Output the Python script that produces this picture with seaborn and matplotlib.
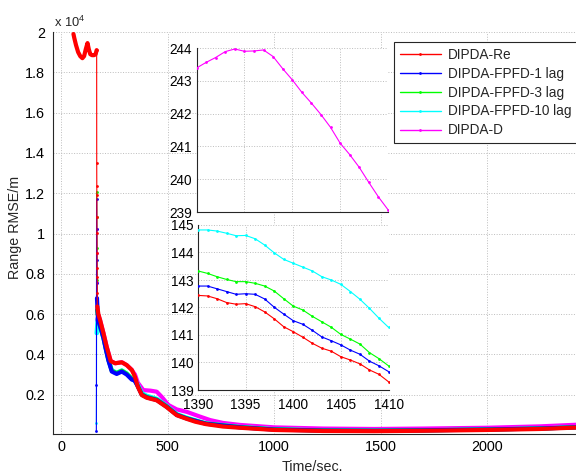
import matplotlib
matplotlib.use("Agg")
import matplotlib.pyplot as plt
from matplotlib.lines import Line2D
import seaborn as sns

sns.set_style("white")
plt.rcParams["font.family"] = ["Liberation Sans", "DejaVu Sans"]
plt.rcParams["mathtext.fontset"] = "custom"
plt.rcParams["mathtext.rm"] = "Liberation Sans"

# ---------------- data ----------------
names = ["DIPDA-Re", "DIPDA-FPFD-1 lag", "DIPDA-FPFD-3 lag", "DIPDA-FPFD-10 lag", "DIPDA-D"]
colors = ["#ff0000", "#0000ff", "#00ff00", "#00ffff", "#ff00ff"]

# main plot: DIPDA-Re (red)
re_head_t = [58, 62, 70, 80, 90, 100, 108, 116, 124, 130, 137, 145, 155, 162, 167]
re_head_v = [19900, 19700, 19350, 19000, 18800, 18700, 18800, 19150, 19450, 19150, 18900, 18850, 18850, 18900, 19100]
re_spike_t = [167, 167.3, 167.6, 167.9, 168.2, 168.5, 168.8, 169.1, 169.4, 169.7, 170]
re_spike_v = [19100, 13510, 12350, 11910, 10830, 10010, 9020, 8270, 7860, 7040, 6380]
re_tail_t = [170, 175, 183, 199, 214, 233, 254, 285, 308, 332, 340, 347, 360, 379, 402, 449, 496, 543, 590, 630, 680, 760, 840, 1000, 1230, 1470, 1700, 2000, 2250, 2420]
re_tail_v = [6380, 6000, 5710, 5050, 4380, 3670, 3560, 3610, 3470, 3230, 3050, 2880, 2400, 1980, 1850, 1720, 1380, 980, 800, 660, 540, 420, 360, 250, 200, 190, 210, 250, 300, 370]

# DIPDA-FPFD-1 lag (blue)
b_spike_t = [165.5, 166, 166.5, 167, 167.5, 168, 168.5]
b_spike_v = [180, 2460, 11710, 10200, 8690, 7530, 6790]
b_tail_t = [168.5, 172, 178, 190, 199, 210, 222, 238, 261, 285, 308, 332, 345, 360, 379, 402, 449, 496, 543, 590, 680, 840, 1000, 1230, 1470, 1700, 2000, 2250, 2420]
b_tail_v = [6790, 6000, 5560, 5150, 4800, 4250, 3700, 3150, 3030, 3150, 3000, 2750, 2700, 2420, 2000, 1870, 1740, 1400, 1000, 820, 560, 380, 270, 220, 210, 230, 270, 320, 380]

# DIPDA-FPFD-3 lag (green)
g_spike_t = [166.5, 167, 167.5, 168, 168.5, 169]
g_spike_v = [12070, 10800, 9300, 7700, 6700, 6200]
g_tail_t = [169, 173, 180, 190, 199, 210, 222, 238, 261, 285, 308, 332, 345, 360, 379, 402, 449, 496, 543, 590, 680, 840, 1000, 1230, 1470, 1700, 2000, 2250, 2420]
g_tail_v = [6200, 5900, 5500, 5150, 4830, 4290, 3740, 3190, 3070, 3190, 3040, 2790, 2730, 2440, 2020, 1890, 1760, 1420, 1010, 830, 570, 390, 280, 225, 215, 235, 275, 325, 385]

# DIPDA-FPFD-10 lag (cyan)
c_spike_t = [166, 166.5]
c_spike_v = [600, 5050]
c_tail_t = [166.5, 172, 178, 185, 192, 199, 210, 222, 238, 261, 285, 308, 332, 345, 360, 379, 402, 449, 496, 543, 590, 680, 840, 1000, 1230, 1470, 1700, 2000, 2250, 2420]
c_tail_v = [5050, 5800, 5650, 5350, 5050, 4800, 4300, 3750, 3220, 3090, 3210, 3060, 2800, 2760, 2500, 2090, 1950, 1800, 1450, 1040, 860, 580, 400, 290, 230, 215, 235, 275, 325, 390]

# DIPDA-D (magenta)
m_spike_t = [166.5, 167, 167.5, 168, 168.5]
m_spike_v = [10200, 9020, 7600, 6210, 5700]
m_tail_t = [168.5, 175, 183, 199, 214, 233, 254, 285, 308, 332, 340, 347, 360, 386, 420, 449, 472, 504, 543, 590, 653, 700, 760, 840, 1000, 1230, 1470, 1700, 2000, 2250, 2420]
m_tail_v = [5700, 5950, 5700, 5050, 4380, 3670, 3560, 3610, 3470, 3230, 3100, 3000, 2600, 2230, 2200, 2150, 1900, 1490, 1270, 1150, 910, 740, 600, 500, 380, 320, 300, 320, 360, 430, 510]

# zoom insets (time 1390..1410)
zoom_t = [1390, 1391, 1392, 1393, 1394, 1395, 1396, 1397, 1398, 1399, 1400,
          1401, 1402, 1403, 1404, 1405, 1406, 1407, 1408, 1409, 1410]
zoom_d = [243.39, 243.56, 243.71, 243.89, 243.97, 243.90, 243.91, 243.94, 243.74, 243.37, 243.03,
          242.65, 242.32, 241.97, 241.58, 241.10, 240.75, 240.36, 239.90, 239.46, 239.07]
zoom_c = [144.82, 144.82, 144.78, 144.70, 144.61, 144.62, 144.50, 144.27, 143.99, 143.75, 143.61,
          143.47, 143.33, 143.12, 143.00, 142.84, 142.58, 142.30, 141.97, 141.61, 141.28]
zoom_g = [143.33, 143.24, 143.12, 143.02, 142.94, 142.94, 142.88, 142.78, 142.60, 142.32, 142.05,
          141.91, 141.68, 141.48, 141.28, 141.02, 140.85, 140.67, 140.36, 140.14, 139.88]
zoom_b = [142.78, 142.78, 142.68, 142.58, 142.48, 142.50, 142.48, 142.31, 142.01, 141.76, 141.52,
          141.39, 141.17, 140.93, 140.79, 140.64, 140.45, 140.30, 140.05, 139.88, 139.67]
zoom_r = [142.44, 142.42, 142.32, 142.18, 142.12, 142.14, 142.03, 141.84, 141.59, 141.30, 141.12,
          140.92, 140.70, 140.52, 140.41, 140.21, 140.09, 139.95, 139.73, 139.57, 139.30]

main_xticks = [0, 500, 1000, 1500, 2000]
main_yticks = [2000, 4000, 6000, 8000, 10000, 12000, 14000, 16000, 18000, 20000]
zoom1_yticks = [239, 240, 241, 242, 243, 244]
zoom2_yticks = [139, 140, 141, 142, 143, 144, 145]
zoom_xticks = [1390, 1395, 1400, 1405, 1410]

# ---------------- figure ----------------
W, H = 576, 475
fig = plt.figure(figsize=(W / 100, H / 100), dpi=100)
fig.patch.set_facecolor("white")

SPINE = "#262626"
GRID = dict(ls=":", color="#bdbdbd", lw=0.7)
THICK = 3.0
THIN = 0.8
MS = 4


def style_axes(a, fs, padx, pady):
    for s in ["top", "right"]:
        a.spines[s].set_visible(False)
    for s in ["left", "bottom"]:
        a.spines[s].set_color(SPINE)
        a.spines[s].set_linewidth(0.8)
    a.tick_params(direction="in", length=3.5, width=0.6, colors=SPINE,
                  labelcolor="black", labelsize=fs)
    a.tick_params(axis="x", pad=padx)
    a.tick_params(axis="y", pad=pady)
    a.set_axisbelow(True)
    a.grid(True, **GRID)


def line(a, t, v, col, lw, z, marker=None):
    kw = dict(marker=marker, markersize=MS, markeredgewidth=0) if marker else {}
    sns.lineplot(x=t, y=v, ax=a, color=col, linewidth=lw, sort=False,
                 estimator=None, legend=False, zorder=z, **kw)


# main axes (extends a bit past the right edge of the figure)
x0_px, x1_px = 53, 593.6
ax = fig.add_axes([x0_px / W, (H - 434) / H, (x1_px - x0_px) / W, 402 / H])
style_axes(ax, 10.4, 4.5, 5.5)

# draw order: D, 10 lag, 3 lag, 1 lag, Re
line(ax, m_tail_t, m_tail_v, colors[4], THICK, 2)
line(ax, m_spike_t, m_spike_v, colors[4], THIN, 2, ".")
line(ax, c_tail_t, c_tail_v, colors[3], THICK, 3)
line(ax, c_spike_t, c_spike_v, colors[3], THIN, 3, ".")
line(ax, g_tail_t, g_tail_v, colors[2], THICK, 4)
line(ax, g_spike_t, g_spike_v, colors[2], THIN, 4, ".")
line(ax, b_tail_t, b_tail_v, colors[1], THICK, 5)
line(ax, b_spike_t, b_spike_v, colors[1], THIN, 5, ".")
line(ax, re_tail_t, re_tail_v, colors[0], THICK, 6)
line(ax, re_head_t, re_head_v, colors[0], THICK, 6)
line(ax, re_spike_t, re_spike_v, colors[0], THIN, 6, ".")

ax.set_xlim(-38, 2500)
ax.set_ylim(50, 20000)
ax.set_xticks(main_xticks)
ax.set_xticklabels([str(v) for v in main_xticks])
ax.set_yticks(main_yticks)
ax.set_yticklabels(["%g" % (v / 1e4) for v in main_yticks])
ax.set_xlabel("Time/sec.", fontsize=10.3)
ax.set_ylabel("Range RMSE/m", fontsize=10.3)
ax.xaxis.set_label_coords((312 - x0_px) / (x1_px - x0_px), -0.065)
ax.yaxis.set_label_coords((22 - x0_px) / (x1_px - x0_px), (434 - 227) / 402)
ax.text(0.002, 1.006, r"x 10$^{4}$", transform=ax.transAxes, ha="left",
        va="bottom", fontsize=9.3)

# inset 1: DIPDA-D
ax1 = fig.add_axes([196.5 / W, (H - 212) / H, (388 - 196.5) / W, 164 / H])
ax1.set_facecolor("white")
style_axes(ax1, 9.8, 5, 3)
line(ax1, zoom_t, zoom_d, colors[4], THIN, 3, ".")
ax1.set_xlim(1390, 1410)
ax1.set_ylim(239, 244)
ax1.set_xticks(zoom_xticks)
ax1.set_xticklabels([])
ax1.set_yticks(zoom1_yticks)
ax1.set_yticklabels([str(v) for v in zoom1_yticks])
ax1.set_xlabel("")
ax1.set_ylabel("")

# inset 2: the four FPFD / Re series
ax2 = fig.add_axes([198 / W, (H - 390) / H, (388.5 - 198) / W, 165 / H])
ax2.set_facecolor("white")
style_axes(ax2, 9.8, 5.5, 3)
line(ax2, zoom_t, zoom_c, colors[3], THIN, 3, ".")
line(ax2, zoom_t, zoom_g, colors[2], THIN, 4, ".")
line(ax2, zoom_t, zoom_b, colors[1], THIN, 5, ".")
line(ax2, zoom_t, zoom_r, colors[0], THIN, 6, ".")
ax2.set_xlim(1390, 1410)
ax2.set_ylim(139, 145)
ax2.set_xticks(zoom_xticks)
ax2.set_xticklabels([str(v) for v in zoom_xticks])
ax2.set_yticks(zoom2_yticks)
ax2.set_yticklabels([str(v) for v in zoom2_yticks])
ax2.set_xlabel("")
ax2.set_ylabel("")

# legend
handles = [Line2D([], [], color=c, lw=1.0, marker=".", markersize=MS, markeredgewidth=0)
           for c in colors]
leg = fig.legend(handles, names, loc="upper left",
                 bbox_to_anchor=(394 / W, 1 - 42 / H), bbox_transform=fig.transFigure,
                 frameon=True, fancybox=False, edgecolor=SPINE, framealpha=1,
                 fontsize=9.8, handlelength=3.0, handletextpad=0.55,
                 labelspacing=0.36, borderpad=0.42, borderaxespad=0)
leg.get_frame().set_linewidth(0.8)

fig.savefig("out.png", dpi=100)
